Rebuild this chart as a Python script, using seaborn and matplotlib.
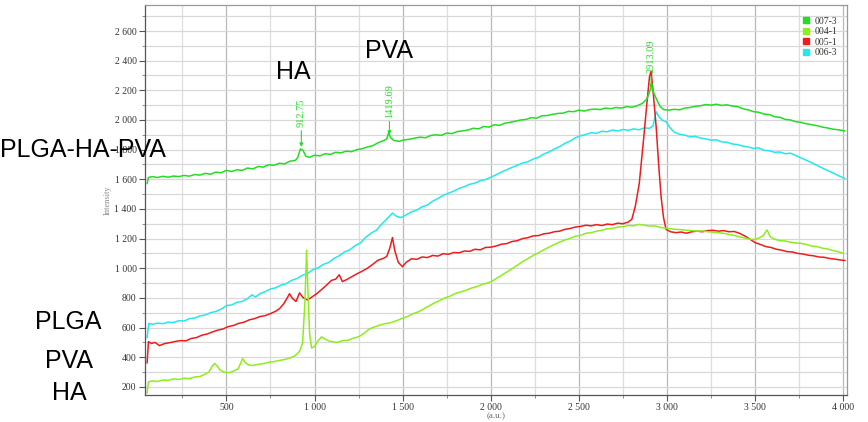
import matplotlib
matplotlib.use("Agg")
import matplotlib.pyplot as plt
from matplotlib.lines import Line2D
from matplotlib.ticker import MultipleLocator, FuncFormatter
import pandas as pd
import seaborn as sns

# ── Spectra (x in a.u., intensity) ────────────────────────────────────────────
x_007_3 = [50, 58, 80, 110, 140, 170, 200, 230, 260, 290, 320, 350, 380, 410,
           440, 470, 500, 530, 560, 590, 620, 650, 680, 710, 740, 770, 800,
           830, 860, 890, 905, 920, 935, 950, 970, 1000, 1030, 1060, 1090,
           1120, 1150, 1180, 1210, 1240, 1270, 1300, 1330, 1360, 1390, 1410,
           1420, 1432, 1450, 1480, 1510, 1540, 1570, 1600, 1630, 1660, 1690,
           1720, 1750, 1780, 1810, 1840, 1870, 1900, 1930, 1960, 1990, 2020,
           2050, 2080, 2110, 2140, 2170, 2200, 2230, 2260, 2290, 2320, 2350,
           2380, 2410, 2440, 2470, 2500, 2530, 2560, 2590, 2620, 2650, 2680,
           2710, 2740, 2770, 2800, 2830, 2860, 2885, 2900, 2913, 2925, 2940,
           2960, 2980, 3010, 3040, 3070, 3100, 3130, 3160, 3190, 3220, 3250,
           3280, 3310, 3340, 3370, 3400, 3430, 3460, 3490, 3520, 3550, 3580,
           3610, 3640, 3670, 3700, 3730, 3760, 3790, 3820, 3850, 3880, 3910,
           3940, 3970, 4010]
y_007_3 = [1570, 1612, 1618, 1612, 1620, 1614, 1622, 1618, 1626, 1621, 1632,
           1628, 1640, 1634, 1648, 1644, 1660, 1652, 1664, 1660, 1676, 1670,
           1686, 1682, 1698, 1694, 1708, 1704, 1722, 1726, 1748, 1805, 1795,
           1756, 1748, 1762, 1758, 1772, 1768, 1782, 1778, 1790, 1786, 1800,
           1806, 1818, 1826, 1846, 1860, 1872, 1915, 1880, 1862, 1856, 1866,
           1870, 1878, 1884, 1880, 1896, 1900, 1896, 1912, 1908, 1922, 1926,
           1932, 1944, 1940, 1956, 1952, 1968, 1964, 1978, 1984, 1992, 2000,
           2004, 2016, 2012, 2028, 2030, 2038, 2044, 2046, 2058, 2056, 2066,
           2060, 2070, 2074, 2070, 2080, 2076, 2084, 2080, 2090, 2086, 2096,
           2112, 2140, 2190, 2230, 2180, 2140, 2092, 2070, 2066, 2072, 2068,
           2080, 2084, 2092, 2096, 2104, 2100, 2106, 2098, 2102, 2094, 2090,
           2076, 2068, 2056, 2052, 2040, 2036, 2022, 2018, 2004, 2000, 1988,
           1984, 1974, 1968, 1962, 1952, 1946, 1938, 1934, 1926]

x_004_1 = [50, 58, 80, 110, 140, 170, 200, 230, 260, 290, 320, 350, 380, 400,
           418, 433, 448, 465, 490, 515, 540, 565, 580, 592, 605, 625, 650,
           680, 710, 740, 770, 800, 830, 860, 890, 915, 932, 945, 955, 962,
           972, 983, 1000, 1020, 1040, 1060, 1080, 1102, 1130, 1160, 1190,
           1220, 1249, 1280, 1310, 1340, 1370, 1400, 1430, 1460, 1499, 1530,
           1560, 1590, 1620, 1650, 1680, 1710, 1740, 1770, 1800, 1830, 1860,
           1890, 1920, 1950, 1980, 2003, 2030, 2060, 2090, 2120, 2150, 2180,
           2210, 2240, 2270, 2300, 2330, 2360, 2390, 2420, 2450, 2480, 2510,
           2540, 2570, 2600, 2630, 2660, 2690, 2720, 2750, 2780, 2810, 2840,
           2870, 2900, 2930, 2960, 2990, 3020, 3050, 3080, 3110, 3140, 3170,
           3200, 3230, 3260, 3290, 3320, 3350, 3380, 3410, 3440, 3470, 3500,
           3525, 3545, 3567, 3585, 3610, 3640, 3670, 3700, 3730, 3760, 3790,
           3820, 3850, 3880, 3910, 3940, 3970, 4000]
y_004_1 = [157, 234, 240, 236, 246, 244, 254, 250, 258, 256, 266, 270, 286,
           300, 336, 358, 340, 312, 298, 296, 306, 320, 356, 391, 366, 348,
           344, 352, 356, 366, 370, 378, 384, 394, 410, 440, 494, 760, 1121,
           860, 560, 462, 472, 510, 537, 522, 510, 504, 500, 512, 514, 528,
           537, 560, 590, 604, 616, 626, 632, 644, 662, 676, 694, 706, 726,
           746, 766, 782, 800, 812, 830, 840, 852, 866, 876, 890, 900, 910,
           930, 952, 974, 996, 1020, 1044, 1064, 1086, 1104, 1124, 1142, 1160,
           1176, 1190, 1202, 1216, 1222, 1236, 1240, 1250, 1256, 1266, 1268,
           1278, 1280, 1288, 1286, 1296, 1290, 1284, 1286, 1276, 1270, 1266,
           1262, 1260, 1256, 1254, 1250, 1252, 1246, 1244, 1240, 1236, 1228,
           1222, 1212, 1204, 1196, 1194, 1206, 1220, 1258, 1212, 1196, 1186,
           1184, 1176, 1170, 1168, 1160, 1150, 1146, 1136, 1130, 1120, 1112,
           1100]

x_005_1 = [50, 58, 75, 95, 120, 150, 180, 210, 240, 270, 300, 330, 360, 390,
           420, 450, 480, 510, 540, 570, 600, 630, 660, 690, 720, 750, 780,
           802, 825, 845, 858, 875, 895, 915, 935, 960, 985, 1010, 1040, 1070,
           1096, 1120, 1140, 1158, 1180, 1210, 1240, 1270, 1300, 1330, 1360,
           1390, 1410, 1428, 1442, 1455, 1475, 1499, 1520, 1550, 1580, 1610,
           1640, 1670, 1700, 1730, 1760, 1790, 1820, 1850, 1880, 1910, 1940,
           1970, 2000, 2030, 2060, 2090, 2120, 2150, 2180, 2210, 2240, 2270,
           2300, 2330, 2360, 2390, 2420, 2450, 2480, 2510, 2540, 2570, 2600,
           2630, 2660, 2690, 2720, 2750, 2780, 2800, 2820, 2842, 2865, 2887,
           2900, 2909, 2920, 2938, 2952, 2966, 2980, 2994, 3020, 3050, 3080,
           3110, 3140, 3170, 3200, 3230, 3260, 3290, 3320, 3350, 3380, 3410,
           3440, 3470, 3500, 3530, 3560, 3590, 3620, 3650, 3680, 3710, 3740,
           3770, 3800, 3830, 3860, 3890, 3920, 3950, 3980, 4010]
y_005_1 = [360, 505, 492, 500, 478, 492, 498, 506, 512, 510, 526, 532, 548,
           556, 570, 582, 590, 606, 614, 628, 636, 652, 660, 674, 680, 694,
           710, 728, 760, 800, 828, 796, 776, 834, 802, 786, 806, 826, 856,
           888, 918, 926, 956, 910, 922, 942, 962, 980, 1000, 1026, 1054,
           1066, 1080, 1140, 1207, 1120, 1040, 1010, 1040, 1064, 1060, 1076,
           1072, 1086, 1082, 1098, 1094, 1106, 1104, 1116, 1114, 1128, 1124,
           1140, 1142, 1150, 1162, 1166, 1180, 1186, 1200, 1206, 1218, 1220,
           1232, 1236, 1246, 1250, 1262, 1268, 1278, 1282, 1290, 1286, 1294,
           1288, 1298, 1294, 1304, 1300, 1312, 1330, 1420, 1571, 1850, 2133,
           2290, 2330, 2200, 1953, 1700, 1481, 1340, 1262, 1246, 1240, 1244,
           1236, 1246, 1250, 1246, 1254, 1256, 1250, 1254, 1246, 1248, 1236,
           1218, 1196, 1172, 1160, 1146, 1140, 1128, 1122, 1112, 1110, 1100,
           1096, 1088, 1084, 1076, 1074, 1066, 1062, 1056, 1052]

x_006_3 = [50, 60, 80, 110, 140, 170, 200, 230, 260, 290, 320, 350, 380, 410,
           440, 470, 500, 530, 560, 590, 620, 645, 665, 690, 720, 750, 780,
           810, 840, 870, 900, 930, 960, 990, 1020, 1050, 1080, 1110, 1140,
           1170, 1200, 1230, 1260, 1290, 1320, 1350, 1380, 1410, 1442, 1465,
           1490, 1520, 1550, 1580, 1610, 1640, 1670, 1700, 1730, 1760, 1790,
           1820, 1850, 1880, 1910, 1940, 1970, 2000, 2030, 2060, 2090, 2120,
           2150, 2180, 2210, 2240, 2270, 2300, 2330, 2360, 2390, 2420, 2450,
           2480, 2510, 2540, 2570, 2600, 2630, 2660, 2690, 2720, 2750, 2780,
           2810, 2840, 2870, 2900, 2920, 2938, 2955, 2975, 2995, 3015, 3040,
           3070, 3100, 3130, 3160, 3190, 3220, 3250, 3280, 3310, 3340, 3370,
           3400, 3430, 3460, 3490, 3520, 3550, 3580, 3610, 3640, 3670, 3700,
           3730, 3760, 3790, 3820, 3850, 3880, 3910, 3940, 3970, 4010]
y_006_3 = [530, 628, 622, 630, 626, 636, 634, 646, 644, 660, 664, 678, 684,
           700, 708, 724, 748, 752, 770, 776, 796, 820, 806, 828, 842, 860,
           868, 886, 896, 918, 930, 952, 964, 990, 1002, 1026, 1038, 1066,
           1084, 1110, 1124, 1152, 1170, 1208, 1236, 1256, 1296, 1332, 1372,
           1350, 1342, 1360, 1380, 1392, 1414, 1426, 1452, 1470, 1492, 1506,
           1520, 1538, 1550, 1566, 1574, 1590, 1598, 1614, 1630, 1648, 1664,
           1680, 1694, 1710, 1718, 1736, 1748, 1770, 1784, 1804, 1820, 1842,
           1858, 1880, 1894, 1902, 1914, 1910, 1924, 1920, 1932, 1926, 1936,
           1930, 1940, 1934, 1946, 1944, 1960, 2055, 2020, 1996, 1988, 1950,
           1918, 1904, 1898, 1886, 1890, 1878, 1872, 1864, 1866, 1852, 1850,
           1838, 1834, 1824, 1818, 1808, 1812, 1796, 1792, 1782, 1784, 1772,
           1776, 1760, 1744, 1728, 1712, 1694, 1676, 1660, 1644, 1626, 1604]

samples = ["007-3", "004-1", "005-1", "006-3"]
colors = ["#22dd22", "#8cee1c", "#ee1c1c", "#22e8ee"]

# peak labels: (text, x, text bottom, arrow tip)
peaks = [("912.75", 925, 1950, 1818),
         ("1419.69", 1425, 2012, 1900),
         ("2913.09", 2909, 2318, 2215)]

# ── Long-form table for seaborn ───────────────────────────────────────────────
frames = []
for name, xs, ys in zip(samples,
                        [x_007_3, x_004_1, x_005_1, x_006_3],
                        [y_007_3, y_004_1, y_005_1, y_006_3]):
    frames.append(pd.DataFrame({"x": xs, "intensity": ys, "sample": name}))
df = pd.concat(frames, ignore_index=True)

sns.set_style("white")
plt.rcParams["font.family"] = ["Liberation Serif", "DejaVu Serif"]

fig = plt.figure(figsize=(8.68, 4.22), dpi=100)
ax = fig.add_axes([0.167, 0.064, 0.8087, 0.924])

# draw in reverse so 007-3 sits on top like the original
sns.lineplot(data=df, x="x", y="intensity", hue="sample",
             hue_order=samples[::-1], palette=dict(zip(samples, colors)),
             estimator=None, linewidth=1.1, legend=False, ax=ax)

ax.set_xlim(38, 4020)
ax.set_ylim(145, 2775)

# ticks and grid
ax.xaxis.set_major_locator(MultipleLocator(500))
ax.xaxis.set_minor_locator(MultipleLocator(250))
ax.yaxis.set_major_locator(MultipleLocator(200))
ax.yaxis.set_minor_locator(MultipleLocator(100))
fmt = FuncFormatter(lambda v, p: f"{int(v):,}".replace(",", " "))
ax.xaxis.set_major_formatter(fmt)
ax.yaxis.set_major_formatter(fmt)
ax.tick_params(which="major", length=4, width=0.8, color="#555555",
               labelsize=7, labelcolor="#333333", pad=2, direction="out",
               left=True, bottom=True)
ax.tick_params(which="minor", length=2.5, width=0.6, color="#777777",
               direction="out", left=True, bottom=True)
ax.grid(which="major", axis="x", color="#b8b8b8", linewidth=0.9)
ax.grid(which="minor", axis="x", color="#dedede", linewidth=0.9)
ax.grid(which="both", axis="y", color="#d8d8d8", linewidth=0.9)
ax.set_axisbelow(True)

for side in ["left", "bottom"]:
    ax.spines[side].set_color("#555555")
    ax.spines[side].set_linewidth(0.9)
for side in ["top", "right"]:
    ax.spines[side].set_color("#999999")
    ax.spines[side].set_linewidth(0.9)

ax.set_xlabel("(a.u.)", fontsize=6.5, color="#666666", labelpad=0)
ax.set_ylabel("Intensity", fontsize=6, color="#888888", labelpad=2)

# peak markers on 007-3
for label, px, ty, tip in peaks:
    ax.annotate(label, xy=(px, tip), xytext=(px, ty), rotation=90,
                ha="center", va="bottom", fontsize=7.5, color=colors[0],
                arrowprops=dict(arrowstyle="-|>", color=colors[0], lw=0.8,
                                mutation_scale=5, shrinkA=0, shrinkB=0))

# legend with square swatches
handles = [Line2D([], [], marker="s", linestyle="none", markersize=4.5,
                  color=c) for c in colors]
ax.legend(handles, samples, loc="upper right", bbox_to_anchor=(0.995, 0.985),
          frameon=False, fontsize=7, handlelength=0.8, handletextpad=0.5,
          labelspacing=0.15, borderaxespad=0.2, labelcolor="#333333")

# big sample annotations
big = dict(fontsize=18, color="black", family=["Liberation Sans", "DejaVu Sans"],
           va="baseline", ha="left")
fig.text(0.0, 0.628, "PLGA-HA-PVA", **big)
fig.text(276 / 868, 0.813, "HA", **big)
fig.text(365 / 868, 0.863, "PVA", **big)
fig.text(35 / 868, 0.221, "PLGA", **big)
fig.text(45 / 868, 0.128, "PVA", **big)
fig.text(52 / 868, 0.053, "HA", **big)

fig.savefig("out.png", dpi=100)
